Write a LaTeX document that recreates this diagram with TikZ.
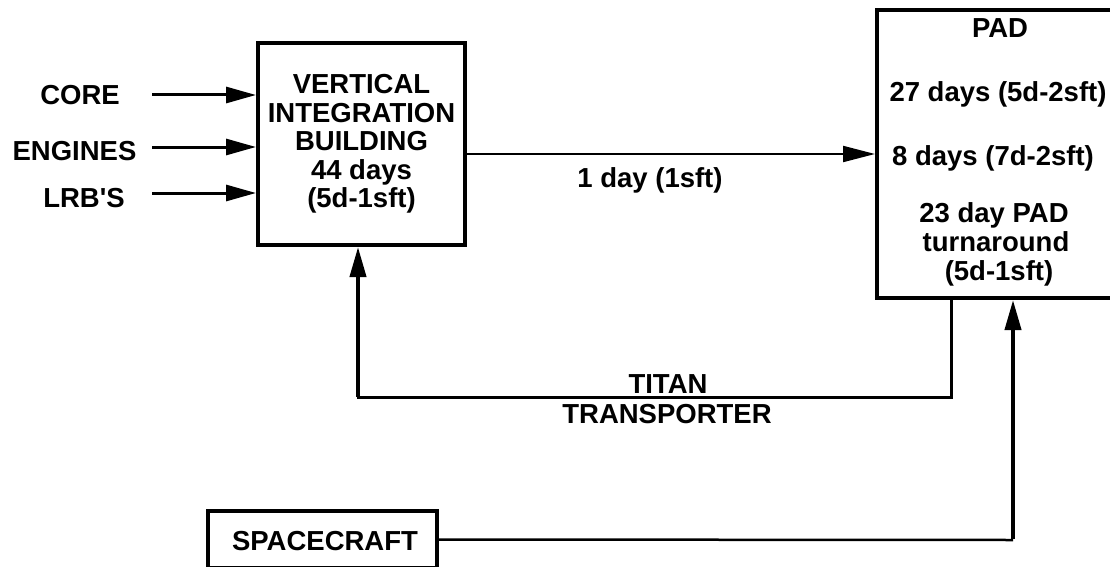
\documentclass[tikz,border=0pt]{standalone}
\usepackage{fontspec}
\setmainfont{Liberation Sans}
\usetikzlibrary{arrows.meta}
\tikzset{
  lbl/.style={font=\fontsize{27.5}{28.5}\selectfont\bfseries, inner sep=0pt, anchor=base},
  blk/.style={draw=black, line width=4pt, fill=none, inner sep=0pt},
  conn/.style={draw=black, line width=3pt},
  arr/.style={conn, -{Triangle[length=30pt,width=16pt]}},
  arrthin/.style={draw=black, line width=2pt, -{Triangle[length=32pt,width=16pt]}},
}
\begin{document}
\begin{tikzpicture}[x=1pt,y=-1pt]
\clip (0,0) rectangle (1110,567);
\fill[white] (0,0) rectangle (1110,567);

% boxes
\node[blk, minimum width=207pt, minimum height=202pt, align=center,
      font=\fontsize{27.5}{28.5}\selectfont\bfseries] (vib) at (361.5,144)
  {VERTICAL\\INTEGRATION\\BUILDING\\44 days\\(5d-1sft)};
\node[blk, minimum width=244pt, minimum height=288pt] (pad) at (999,154) {};
\node[blk, minimum width=229pt, minimum height=57pt] (sc) at (322.5,539.5) {};
\node[lbl] (sclbl) at (325,550) {SPACECRAFT};

% PAD texts
\node[lbl] (padt) at (1000,38) {PAD};
\node[lbl] (pad1) at (998,102) {27 days (5d-2sft)};
\node[lbl] (pad2) at (993,165) {8 days (7d-2sft)};
\node[lbl] (pad3) at (994,222) {23 day PAD};
\node[lbl] (pad4) at (996,251) {turnaround};
\node[lbl] (pad5) at (999,280) {(5d-1sft)};

% inputs
\node[lbl] (core) at (80,105) {CORE};
\node[lbl] (eng) at (74.5,160) {ENGINES};
\node[lbl] (lrb) at (84,207) {LRB\textquotesingle S};
\coordinate (c1) at (152,95);
\coordinate (c2) at (152,147);
\coordinate (c3) at (152,193);
\draw[arr] (c1) -- (c1 -| vib.west);
\draw[arr] (c2) -- (c2 -| vib.west);
\draw[arr] (c3) -- (c3 -| vib.west);

% VIB -> PAD
\draw[arrthin] (vib.east |- pad.west) -- (pad.west);
\node[lbl] (oneday) at (650,187) {1 day (1sft)};

% Titan transporter loop
\coordinate (t1) at (951,397);
\coordinate (t2) at (358,397);
\draw[conn, line cap=rect] (pad.south -| t1) -- (t1) -- (t2);
\draw[arr, line width=4pt] (t2) -- (t2 |- vib.south);
\node[lbl] (titan) at (668,393) {TITAN};
\node[lbl] (transp) at (667,423) {TRANSPORTER};

% spacecraft -> PAD
\coordinate (s1) at (1013,540);
\draw[conn, line width=2.5pt] (sc.east) -- (s1);
\draw[arr, line width=4pt] ([yshift=1.25pt]s1) -- (s1 |- pad.south);
\end{tikzpicture}
\end{document}
